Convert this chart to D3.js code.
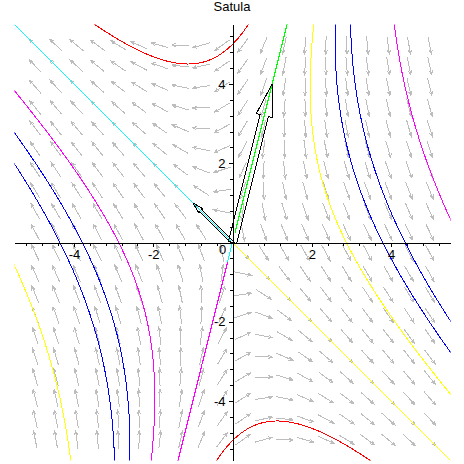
<!DOCTYPE html>
<html>
<head>
<meta charset="utf-8">
<script src="https://cdn.jsdelivr.net/npm/d3@7"></script>
<style>
  body { margin: 0; background: #fff; }
  svg { display: block; font-family: "Liberation Sans", Arial, sans-serif; }
  path, line { shape-rendering: crispEdges; }
</style>
</head>
<body>
<div id="chart"></div>
<script>
// linear system  x' = 2x - y ,  y' = -4x - y  (saddle)
const matrixA = [[2, -1], [-4, -1]];

const axisRange = [-5.5, 5.5];
const majorTicks = [-4, -2, 2, 4];
const minorStep = 0.4;
const dirGrid = 20;

// trajectories: start point, colour and which way in time to follow it
const trajStarts = [
  [0, 5], [0, -5],
  [2, 3], [3, 2], [3.83, 1.17], [4.87, 2.13],
  [-2, -3], [-3, -2], [-3.83, -1.17], [-4.87, -2.13],
  [-0.1252, -0.5], [-0.125, -0.5], [0.0625, 0.25], [0.001, -0.001]
];
const trajColors = [
  "#ff0000", "#ff0000",
  "#ffff00", "#0000ff", "#0000ff", "#ff00ff",
  "#ff00ff", "#0000ff", "#0000ff", "#ffff00",
  "#00ffff", "#ff00ff", "#00ff00", "#ffff00"
];
const trajDirs = [
  "both", "both",
  "both", "both", "both", "both",
  "both", "both", "both", "both",
  "fwd", "back", "back", "fwd"
];

// eigenvector arrows
const eigenTips = [[-1, 1], [1, 4]];

const W = 464, H = 464;
const svg = d3.select("#chart").append("svg")
  .attr("width", W).attr("height", H);

const x = d3.scaleLinear().domain(axisRange).range([14.5, 450.5]);
const y = d3.scaleLinear().domain(axisRange).range([460.5, 24.5]);

svg.append("defs").append("clipPath").attr("id", "plotclip")
  .append("rect")
  .attr("x", x(axisRange[0])).attr("y", y(axisRange[1]))
  .attr("width", x(axisRange[1]) - x(axisRange[0]))
  .attr("height", y(axisRange[0]) - y(axisRange[1]));

function field(p) {
  return [matrixA[0][0] * p[0] + matrixA[0][1] * p[1],
          matrixA[1][0] * p[0] + matrixA[1][1] * p[1]];
}

function rk4(p, h) {
  const k1 = field(p);
  const k2 = field([p[0] + h / 2 * k1[0], p[1] + h / 2 * k1[1]]);
  const k3 = field([p[0] + h / 2 * k2[0], p[1] + h / 2 * k2[1]]);
  const k4 = field([p[0] + h * k3[0], p[1] + h * k3[1]]);
  return [p[0] + h / 6 * (k1[0] + 2 * k2[0] + 2 * k3[0] + k4[0]),
          p[1] + h / 6 * (k1[1] + 2 * k2[1] + 2 * k3[1] + k4[1])];
}

function follow(start, h) {
  const pts = [start];
  let p = start;
  for (let i = 0; i < 20000; i++) {
    p = rk4(p, h);
    pts.push(p);
    if (Math.abs(p[0]) > 6.5 || Math.abs(p[1]) > 6.5) break;
  }
  return pts;
}

// direction field
const step = (axisRange[1] - axisRange[0]) / (dirGrid + 1);
const gridVals = d3.range(1, dirGrid + 1).map(i => axisRange[0] + i * step);
const arrowLen = 0.85 * (x(step) - x(0));
const fieldG = svg.append("g")
  .attr("stroke", "#bdbdbd").attr("stroke-width", 1).attr("fill", "none");
gridVals.forEach(gx => {
  gridVals.forEach(gy => {
    const v = field([gx, gy]);
    const sx = v[0], sy = -v[1];
    const m = Math.hypot(sx, sy);
    if (m === 0) return;
    const ux = sx / m, uy = sy / m;
    const cx = x(gx), cy = y(gy);
    const x0 = cx - ux * arrowLen / 2, y0 = cy - uy * arrowLen / 2;
    const x1 = cx + ux * arrowLen / 2, y1 = cy + uy * arrowLen / 2;
    const hl = 4, hw = 1.6;
    const bx = x1 - ux * hl, by = y1 - uy * hl;
    fieldG.append("path")
      .attr("d", `M${x0},${y0}L${x1},${y1}M${bx - uy * hw},${by + ux * hw}L${x1},${y1}L${bx + uy * hw},${by - ux * hw}`);
  });
});

// trajectories
const line = d3.line().x(d => x(d[0])).y(d => y(d[1]));
const trajG = svg.append("g").attr("clip-path", "url(#plotclip)");
trajStarts.forEach((s, i) => {
  let pts = [s];
  if (trajDirs[i] === "both" || trajDirs[i] === "back") {
    pts = follow(s, -0.002).reverse();
  }
  if (trajDirs[i] === "both" || trajDirs[i] === "fwd") {
    pts = pts.concat(follow(s, 0.002).slice(1));
  }
  trajG.append("path")
    .attr("d", line(pts))
    .attr("fill", "none")
    .attr("stroke", trajColors[i])
    .attr("stroke-width", 1);
});

// eigenvector arrows (outline)
eigenTips.forEach(t => {
  const L = Math.hypot(t[0], t[1]);
  const d = [t[0] / L, t[1] / L], n = [-d[1], d[0]];
  const bw = 0.026 * L, hw = 0.05 * L, neck = 0.8 * L;
  const P = (a, b) => [d[0] * a + n[0] * b, d[1] * a + n[1] * b];
  const poly = [P(0, bw), P(neck, bw), P(neck, hw), P(L, 0),
                P(neck, -hw), P(neck, -bw), P(0, -bw)];
  svg.append("path")
    .attr("d", line(poly) + "Z")
    .attr("fill", "none")
    .attr("stroke", "#000")
    .attr("stroke-width", 1);
});

// axes
const minorTicks = d3.range(-13, 14).filter(k => k % 5 !== 0).map(k => k * minorStep);

const xAxisG = svg.append("g").attr("transform", `translate(0,${y(0)})`);
xAxisG.call(d3.axisBottom(x).tickValues(minorTicks).tickSize(3).tickSizeOuter(0).tickFormat(""));
xAxisG.append("g").call(d3.axisBottom(x).tickValues(majorTicks).tickSize(4).tickSizeOuter(0)
  .tickPadding(3).tickFormat(d => String(d)));

const yAxisG = svg.append("g").attr("transform", `translate(${x(0)},0)`);
yAxisG.call(d3.axisLeft(y).tickValues(minorTicks).tickSize(3).tickSizeOuter(0).tickFormat(""));
yAxisG.append("g").call(d3.axisLeft(y).tickValues(majorTicks).tickSize(4).tickSizeOuter(0)
  .tickPadding(3).tickFormat(d => String(d)));

svg.selectAll(".domain").attr("stroke", "#000");
svg.selectAll(".tick line").attr("stroke", "#000");
svg.selectAll(".tick text")
  .attr("fill", "#000")
  .style("font-family", "'Liberation Sans', Arial, sans-serif")
  .style("font-size", "13px");

// origin label
svg.append("text")
  .attr("x", x(0) - 10).attr("y", y(0) + 11)
  .attr("text-anchor", "middle")
  .style("font-size", "13px")
  .text("0");

// title
svg.append("text")
  .attr("x", 232).attr("y", 11)
  .attr("text-anchor", "middle")
  .style("font-size", "13px")
  .text("Satula");
</script>
</body>
</html>
